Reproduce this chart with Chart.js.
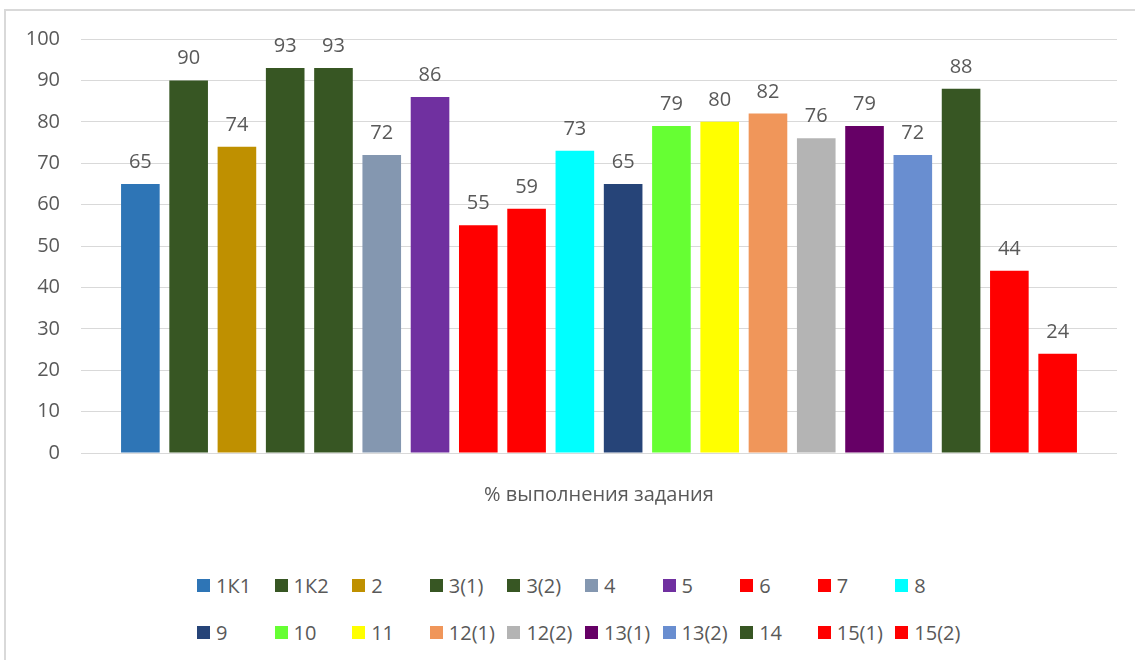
<!doctype html>
<html lang="ru">
  <head>
    <script src="https://cdn.jsdelivr.net/npm/chart.js"></script>
    <meta charset="UTF-8" />
    <title>% выполнения задания</title>
    <style>
      body {
        margin: 0;
        width: 1135px;
        height: 660px;
        overflow: hidden;
        background: #fff;
        font-family: "Open Sans", sans-serif;
        position: relative;
      }
      #frame {
        position: absolute;
        left: 4px;
        top: 9px;
        right: 0;
        bottom: 0;
        border-left: 2px solid #d9d9d9;
        border-top: 2px solid #d9d9d9;
      }
      #chart-box {
        position: absolute;
        left: 0;
        top: 0;
        width: 1135px;
        height: 560px;
      }
      #legend {
        position: absolute;
        left: 197px;
        top: 571px;
        display: grid;
        grid-template-columns: repeat(10, 77.6px);
        grid-auto-rows: 47px;
      }
      .item {
        display: flex;
        align-items: center;
        height: 28px;
        font-size: 20px;
        color: #595959;
        white-space: nowrap;
      }
      .swatch {
        width: 13px;
        height: 13px;
        margin-right: 6px;
        flex: none;
      }
    </style>
  </head>
  <body>
    <div id="frame"></div>
    <div id="chart-box"><canvas id="myChart"></canvas></div>
    <div id="legend"></div>

    <script>
      const categories = ["% выполнения задания"];
      const seriesNames = ["1К1", "1К2", "2", "3(1)", "3(2)", "4", "5", "6", "7", "8",
        "9", "10", "11", "12(1)", "12(2)", "13(1)", "13(2)", "14", "15(1)", "15(2)"];
      const seriesValues = [65, 90, 74, 93, 93, 72, 86, 55, 59, 73,
        65, 79, 80, 82, 76, 79, 72, 88, 44, 24];
      const seriesColors = ["#2e75b6", "#375623", "#bf9000", "#375623", "#375623", "#8497b0",
        "#7030a0", "#ff0000", "#ff0000", "#00ffff", "#264478", "#66ff33", "#ffff00",
        "#f0965a", "#b4b4b4", "#660066", "#698ed0", "#375623", "#ff0000", "#ff0000"];
      const yMin = 0;
      const yMax = 100;
      const yStep = 10;

      const textColor = "#595959";
      const font = { family: "'Open Sans', sans-serif", size: 20 };

      // numbers above each bar
      const valueLabels = {
        id: "valueLabels",
        afterDatasetsDraw(chart) {
          const ctx = chart.ctx;
          ctx.save();
          ctx.font = "20px 'Open Sans', sans-serif";
          ctx.fillStyle = textColor;
          ctx.textAlign = "center";
          ctx.textBaseline = "alphabetic";
          chart.data.datasets.forEach((ds, i) => {
            chart.getDatasetMeta(i).data.forEach((bar, j) => {
              ctx.fillText(ds.data[j], bar.x, bar.y - 16);
            });
          });
          ctx.restore();
        },
      };

      const ctx = document.getElementById("myChart").getContext("2d");
      const myChart = new Chart(ctx, {
        type: "bar",
        data: {
          labels: categories,
          datasets: seriesNames.map((name, i) => ({
            label: name,
            data: [seriesValues[i]],
            backgroundColor: seriesColors[i],
            barPercentage: 0.8,
            categoryPercentage: 0.932,
          })),
        },
        options: {
          responsive: true,
          maintainAspectRatio: false,
          animation: false,
          layout: { padding: { top: 39, right: 18, left: 0, bottom: 0 } },
          plugins: {
            legend: { display: false },
            tooltip: { enabled: false },
          },
          scales: {
            x: {
              grid: { display: false },
              border: { display: false },
              ticks: { color: textColor, font: font, padding: 22 },
              afterFit: (s) => { s.height = 107; },
            },
            y: {
              min: yMin,
              max: yMax,
              ticks: { stepSize: yStep, color: textColor, font: font, padding: 21 },
              grid: { color: "#d9d9d9", lineWidth: 1, drawTicks: false },
              border: { display: false },
              afterFit: (s) => { s.width = 81; },
            },
          },
        },
        plugins: [valueLabels],
      });

      // html legend in fixed columns, like the original
      const legendBox = document.getElementById("legend");
      Chart.defaults.plugins.legend.labels.generateLabels(myChart).forEach((item) => {
        const el = document.createElement("div");
        el.className = "item";
        const sw = document.createElement("span");
        sw.className = "swatch";
        sw.style.background = item.fillStyle;
        el.appendChild(sw);
        el.appendChild(document.createTextNode(item.text));
        legendBox.appendChild(el);
      });
    </script>
  </body>
</html>
